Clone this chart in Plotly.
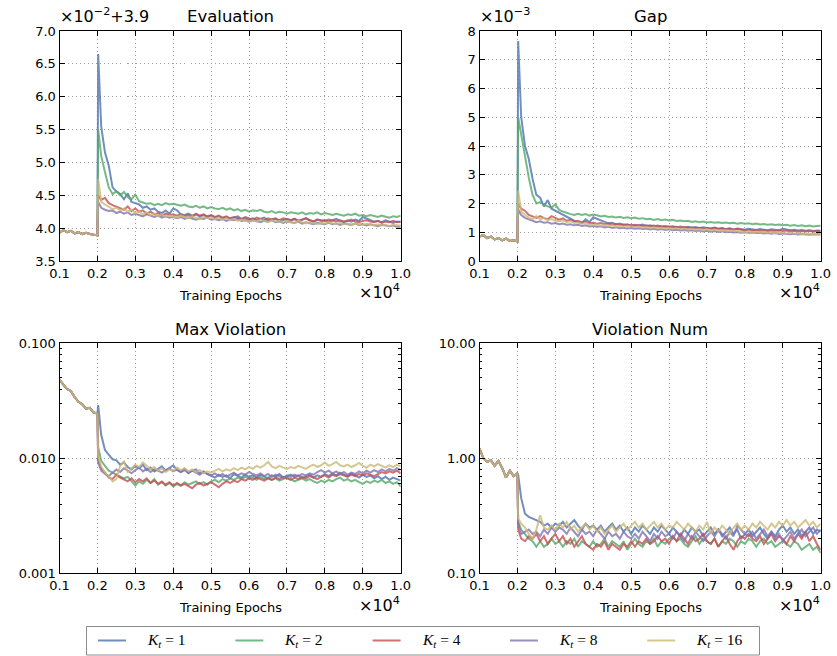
import plotly.graph_objects as go

W, H = 837, 656

# ---- data -----------------------------------------------------------------
epochs_pre = list(range(1000, 2001, 100))
epochs_post = [2020] + list(range(2100, 10001, 100))
epochs = epochs_pre + epochs_post

x_tickvals = list(range(1000, 10001, 1000))
x_ticktext = ["0.1", "0.2", "0.3", "0.4", "0.5", "0.6", "0.7", "0.8", "0.9", "1.0"]

series_labels = ["<i>K</i><sub><i>t</i></sub> = 1", "<i>K</i><sub><i>t</i></sub> = 2",
                 "<i>K</i><sub><i>t</i></sub> = 4", "<i>K</i><sub><i>t</i></sub> = 8",
                 "<i>K</i><sub><i>t</i></sub> = 16"]
series_colors = ["rgba(76,114,176,0.8)", "rgba(85,168,104,0.8)", "rgba(196,78,82,0.8)",
                 "rgba(129,114,178,0.8)", "rgba(204,185,116,0.8)"]

# Evaluation, in units of 1e-2 above 3.9 (shared warm-up, then one run per K_t)
eval_pre = [3.93, 3.97, 3.94, 3.96, 3.92, 3.94, 3.91, 3.93, 3.91, 3.90, 3.89]
eval_k1 = [6.65,
           5.55, 5.15, 4.95, 4.62, 4.56, 4.52, 4.44, 4.53, 4.40, 4.38,
           4.36, 4.31, 4.33, 4.28, 4.30, 4.25, 4.23, 4.27, 4.22, 4.30,
           4.27, 4.21, 4.20, 4.22, 4.19, 4.21, 4.18, 4.20, 4.17, 4.19,
           4.16, 4.18, 4.15, 4.17, 4.14, 4.16, 4.18, 4.14, 4.15, 4.13,
           4.15, 4.12, 4.14, 4.16, 4.12, 4.13, 4.15, 4.11, 4.13, 4.14,
           4.12, 4.14, 4.11, 4.13, 4.15, 4.12, 4.10, 4.13, 4.11, 4.12,
           4.10, 4.12, 4.14, 4.11, 4.09, 4.12, 4.10, 4.13, 4.11, 4.17,
           4.15, 4.12, 4.10, 4.11, 4.09, 4.12, 4.10, 4.08, 4.10, 4.09]
eval_k2 = [5.50,
           5.10, 4.85, 4.62, 4.52, 4.56, 4.50, 4.55, 4.47, 4.44, 4.51,
           4.41, 4.39, 4.37, 4.38, 4.35, 4.37, 4.35, 4.38, 4.36, 4.37,
           4.35, 4.34, 4.36, 4.33, 4.32, 4.34, 4.31, 4.33, 4.30, 4.32,
           4.30, 4.29, 4.31, 4.28, 4.30, 4.27, 4.29, 4.26, 4.28, 4.25,
           4.27, 4.26, 4.28, 4.25, 4.24, 4.26, 4.23, 4.25, 4.24, 4.22,
           4.24, 4.23, 4.22, 4.24, 4.21, 4.23, 4.22, 4.24, 4.21, 4.23,
           4.22, 4.20, 4.22, 4.21, 4.19, 4.21, 4.20, 4.22, 4.19, 4.20,
           4.18, 4.20, 4.19, 4.17, 4.19, 4.18, 4.16, 4.18, 4.17, 4.19]
eval_k4 = [4.50,
           4.43, 4.46, 4.38, 4.35, 4.33, 4.30, 4.28, 4.33, 4.26, 4.30,
           4.25, 4.27, 4.22, 4.25, 4.21, 4.23, 4.19, 4.22, 4.20, 4.21,
           4.19, 4.21, 4.18, 4.20, 4.17, 4.22, 4.19, 4.21, 4.18, 4.20,
           4.17, 4.19, 4.16, 4.18, 4.15, 4.17, 4.16, 4.14, 4.17, 4.15,
           4.13, 4.16, 4.14, 4.12, 4.15, 4.13, 4.14, 4.12, 4.15, 4.13,
           4.12, 4.14, 4.11, 4.13, 4.15, 4.12, 4.10, 4.13, 4.12, 4.11,
           4.13, 4.11, 4.10, 4.12, 4.10, 4.11, 4.13, 4.10, 4.09, 4.11,
           4.12, 4.10, 4.09, 4.11, 4.08, 4.10, 4.09, 4.11, 4.09, 4.10]
eval_k8 = [4.40,
           4.31, 4.28, 4.26, 4.27, 4.23, 4.25, 4.22, 4.24, 4.20, 4.22,
           4.20, 4.18, 4.21, 4.19, 4.17, 4.19, 4.16, 4.18, 4.16, 4.17,
           4.15, 4.17, 4.14, 4.16, 4.15, 4.13, 4.15, 4.14, 4.16, 4.13,
           4.14, 4.12, 4.14, 4.11, 4.13, 4.12, 4.14, 4.11, 4.12, 4.10,
           4.12, 4.11, 4.09, 4.11, 4.10, 4.12, 4.09, 4.10, 4.08, 4.10,
           4.09, 4.08, 4.10, 4.07, 4.09, 4.08, 4.06, 4.08, 4.07, 4.06,
           4.08, 4.06, 4.07, 4.05, 4.07, 4.06, 4.05, 4.07, 4.05, 4.06,
           4.04, 4.06, 4.05, 4.03, 4.05, 4.04, 4.03, 4.04, 4.02, 4.02]
eval_k16 = [4.75,
            4.40, 4.36, 4.32, 4.29, 4.31, 4.27, 4.30, 4.25, 4.28, 4.23,
            4.25, 4.21, 4.24, 4.20, 4.22, 4.18, 4.21, 4.17, 4.19, 4.18,
            4.16, 4.19, 4.17, 4.15, 4.18, 4.16, 4.14, 4.17, 4.15, 4.16,
            4.14, 4.16, 4.13, 4.15, 4.12, 4.14, 4.11, 4.13, 4.12, 4.10,
            4.12, 4.10, 4.13, 4.11, 4.09, 4.12, 4.10, 4.11, 4.09, 4.11,
            4.10, 4.08, 4.11, 4.09, 4.07, 4.09, 4.08, 4.06, 4.08, 4.07,
            4.09, 4.07, 4.06, 4.08, 4.06, 4.07, 4.05, 4.07, 4.06, 4.05,
            4.07, 4.05, 4.04, 4.06, 4.04, 4.05, 4.03, 4.05, 4.04, 4.04]

# Gap, in units of 1e-3
gap_pre = [0.85, 0.90, 0.80, 0.85, 0.75, 0.80, 0.72, 0.78, 0.70, 0.72, 0.68]
gap_k1 = [7.65,
          5.00, 4.00, 3.55, 2.85, 2.30, 2.20, 1.90, 2.12, 1.82, 1.75,
          1.70, 1.62, 1.55, 1.48, 1.40, 1.36, 1.32, 1.45, 1.35, 1.52,
          1.46, 1.40, 1.36, 1.31, 1.33, 1.27, 1.30, 1.25, 1.28, 1.22,
          1.26, 1.23, 1.27, 1.21, 1.24, 1.20, 1.23, 1.19, 1.22, 1.18,
          1.21, 1.17, 1.20, 1.16, 1.19, 1.15, 1.18, 1.14, 1.17, 1.15,
          1.13, 1.16, 1.12, 1.15, 1.11, 1.14, 1.10, 1.13, 1.11, 1.09,
          1.12, 1.10, 1.08, 1.11, 1.09, 1.07, 1.10, 1.08, 1.06, 1.12,
          1.10, 1.07, 1.09, 1.06, 1.08, 1.05, 1.07, 1.04, 1.06, 1.05]
gap_k2 = [5.00,
          4.40, 3.60, 2.90, 2.30, 2.00, 2.05, 1.95, 1.90, 1.85, 1.97,
          1.78, 1.72, 1.67, 1.63, 1.60, 1.64, 1.60, 1.63, 1.58, 1.62,
          1.59, 1.55, 1.57, 1.53, 1.55, 1.51, 1.54, 1.50, 1.52, 1.49,
          1.51, 1.47, 1.49, 1.45, 1.47, 1.43, 1.46, 1.42, 1.44, 1.41,
          1.43, 1.39, 1.41, 1.38, 1.40, 1.36, 1.38, 1.35, 1.37, 1.34,
          1.36, 1.33, 1.35, 1.32, 1.34, 1.31, 1.33, 1.30, 1.32, 1.30,
          1.31, 1.28, 1.30, 1.27, 1.29, 1.26, 1.28, 1.25, 1.27, 1.24,
          1.26, 1.23, 1.25, 1.22, 1.24, 1.21, 1.23, 1.20, 1.22, 1.23]
gap_k4 = [2.00,
          1.82, 1.75, 1.60, 1.55, 1.50, 1.56, 1.49, 1.45, 1.56, 1.50,
          1.44, 1.48, 1.40, 1.43, 1.37, 1.40, 1.34, 1.37, 1.31, 1.33,
          1.30, 1.32, 1.28, 1.30, 1.26, 1.29, 1.25, 1.27, 1.24, 1.26,
          1.23, 1.25, 1.22, 1.24, 1.20, 1.23, 1.19, 1.21, 1.18, 1.20,
          1.17, 1.19, 1.16, 1.18, 1.15, 1.17, 1.14, 1.16, 1.13, 1.15,
          1.12, 1.14, 1.11, 1.13, 1.10, 1.12, 1.09, 1.11, 1.08, 1.07,
          1.09, 1.06, 1.08, 1.05, 1.07, 1.04, 1.06, 1.05, 1.07, 1.04,
          1.06, 1.03, 1.05, 1.02, 1.04, 1.03, 1.05, 1.02, 1.04, 1.03]
gap_k8 = [1.80,
          1.60, 1.50, 1.45, 1.40, 1.35, 1.38, 1.33, 1.35, 1.30, 1.32,
          1.28, 1.30, 1.26, 1.28, 1.24, 1.26, 1.22, 1.24, 1.20, 1.22,
          1.19, 1.21, 1.17, 1.19, 1.15, 1.17, 1.14, 1.16, 1.13, 1.15,
          1.12, 1.14, 1.11, 1.13, 1.10, 1.12, 1.09, 1.11, 1.08, 1.10,
          1.07, 1.09, 1.06, 1.08, 1.05, 1.07, 1.04, 1.06, 1.03, 1.05,
          1.02, 1.04, 1.01, 1.03, 1.00, 1.02, 0.99, 1.01, 0.98, 1.00,
          0.98, 0.99, 0.97, 0.98, 0.96, 0.97, 0.95, 0.97, 0.94, 0.96,
          0.95, 0.93, 0.95, 0.92, 0.94, 0.93, 0.91, 0.93, 0.92, 0.92]
gap_k16 = [2.45,
           1.72, 1.60, 1.50, 1.46, 1.56, 1.45, 1.50, 1.42, 1.46, 1.40,
           1.38, 1.41, 1.35, 1.38, 1.32, 1.34, 1.30, 1.32, 1.27, 1.25,
           1.27, 1.23, 1.25, 1.21, 1.24, 1.20, 1.22, 1.19, 1.21, 1.20,
           1.18, 1.20, 1.16, 1.18, 1.15, 1.17, 1.14, 1.16, 1.13, 1.15,
           1.12, 1.14, 1.11, 1.13, 1.10, 1.12, 1.09, 1.11, 1.08, 1.10,
           1.07, 1.09, 1.06, 1.05, 1.07, 1.04, 1.06, 1.03, 1.02, 1.01,
           1.03, 1.00, 1.02, 0.99, 1.01, 0.98, 1.00, 0.97, 0.99, 0.98,
           0.96, 0.98, 0.95, 0.97, 0.94, 0.96, 0.95, 0.93, 0.95, 0.94]

# Max violation
maxv_pre = [0.048, 0.044, 0.040, 0.0385, 0.034, 0.031, 0.0295, 0.027, 0.0275, 0.025, 0.0245]
maxv_k1 = [0.029,
           0.016, 0.0118, 0.0108, 0.0098, 0.0096, 0.0088, 0.0092, 0.0084, 0.0080, 0.0086,
           0.0082, 0.0088, 0.0079, 0.0083, 0.0077, 0.0081, 0.0085, 0.0078, 0.0082, 0.0087,
           0.0079, 0.0076, 0.0081, 0.0075, 0.0078, 0.0080, 0.0074, 0.0077, 0.0073, 0.0070,
           0.0068, 0.0072, 0.0069, 0.0071, 0.0067, 0.0073, 0.0070, 0.0068, 0.0072, 0.0069,
           0.0071, 0.0068, 0.0072, 0.0070, 0.0067, 0.0071, 0.0069, 0.0073, 0.0068, 0.0070,
           0.0072, 0.0069, 0.0071, 0.0067, 0.0070, 0.0072, 0.0068, 0.0071, 0.0069, 0.0073,
           0.0070, 0.0074, 0.0071, 0.0075, 0.0072, 0.0070, 0.0074, 0.0071, 0.0068, 0.0072,
           0.0069, 0.0071, 0.0067, 0.0070, 0.0066, 0.0069, 0.0065, 0.0068, 0.0066, 0.0064]
maxv_k2 = [0.0125,
           0.0095, 0.0086, 0.0078, 0.0075, 0.0072, 0.0070, 0.0067, 0.0069, 0.0063, 0.0058,
           0.0063, 0.0060, 0.0065, 0.0061, 0.0066, 0.0059, 0.0062, 0.0058, 0.0061, 0.0057,
           0.0060, 0.0058, 0.0062, 0.0059, 0.0061, 0.0063, 0.0060, 0.0062, 0.0059, 0.0063,
           0.0065, 0.0062, 0.0066, 0.0064, 0.0067, 0.0065, 0.0068, 0.0066, 0.0069, 0.0067,
           0.0068, 0.0065, 0.0069, 0.0066, 0.0068, 0.0065, 0.0067, 0.0064, 0.0066, 0.0068,
           0.0066, 0.0063, 0.0065, 0.0067, 0.0064, 0.0066, 0.0063, 0.0061, 0.0064, 0.0062,
           0.0065, 0.0063, 0.0066, 0.0068, 0.0064, 0.0066, 0.0063, 0.0065, 0.0062, 0.0060,
           0.0063, 0.0061, 0.0064, 0.0062, 0.0065, 0.0061, 0.0063, 0.0060, 0.0062, 0.0057]
maxv_k4 = [0.0095,
           0.0082, 0.0075, 0.0068, 0.0066, 0.0072, 0.0068, 0.0065, 0.0063, 0.0067, 0.0062,
           0.0066, 0.0063, 0.0067, 0.0061, 0.0064, 0.0060, 0.0063, 0.0059, 0.0062, 0.0058,
           0.0061, 0.0058, 0.0060, 0.0057, 0.0055, 0.0059, 0.0061, 0.0058, 0.0060, 0.0062,
           0.0059, 0.0056, 0.0060, 0.0063, 0.0061, 0.0064, 0.0062, 0.0066, 0.0064, 0.0067,
           0.0065, 0.0068, 0.0066, 0.0064, 0.0067, 0.0065, 0.0068, 0.0066, 0.0069, 0.0067,
           0.0065, 0.0068, 0.0066, 0.0069, 0.0067, 0.0070, 0.0068, 0.0066, 0.0069, 0.0071,
           0.0068, 0.0072, 0.0070, 0.0073, 0.0071, 0.0069, 0.0072, 0.0070, 0.0073, 0.0071,
           0.0074, 0.0072, 0.0070, 0.0073, 0.0076, 0.0074, 0.0077, 0.0075, 0.0078, 0.0074]
maxv_k8 = [0.0092,
           0.0078, 0.0073, 0.0070, 0.0075, 0.0080, 0.0076, 0.0082, 0.0078, 0.0074, 0.0079,
           0.0083, 0.0077, 0.0081, 0.0076, 0.0080, 0.0078, 0.0075, 0.0079, 0.0082, 0.0077,
           0.0080, 0.0076, 0.0079, 0.0074, 0.0078, 0.0075, 0.0072, 0.0076, 0.0073, 0.0071,
           0.0074, 0.0070, 0.0073, 0.0069, 0.0072, 0.0075, 0.0071, 0.0074, 0.0072, 0.0076,
           0.0073, 0.0071, 0.0074, 0.0070, 0.0073, 0.0069, 0.0072, 0.0070, 0.0068, 0.0071,
           0.0069, 0.0072, 0.0070, 0.0073, 0.0071, 0.0074, 0.0072, 0.0076, 0.0079, 0.0075,
           0.0078, 0.0074, 0.0077, 0.0073, 0.0076, 0.0072, 0.0075, 0.0073, 0.0077, 0.0074,
           0.0078, 0.0075, 0.0079, 0.0076, 0.0080, 0.0077, 0.0081, 0.0078, 0.0082, 0.0079]
maxv_k16 = [0.0105,
            0.0085, 0.0075, 0.0070, 0.0063, 0.0066, 0.0086, 0.0094, 0.0076, 0.0081, 0.0088,
            0.0084, 0.0092, 0.0086, 0.0080, 0.0084, 0.0078, 0.0082, 0.0076, 0.0080, 0.0078,
            0.0083, 0.0079, 0.0082, 0.0077, 0.0080, 0.0076, 0.0079, 0.0074, 0.0077, 0.0075,
            0.0078, 0.0081, 0.0077, 0.0080, 0.0078, 0.0082, 0.0079, 0.0083, 0.0080, 0.0084,
            0.0081, 0.0086, 0.0083, 0.0087, 0.0093, 0.0085, 0.0082, 0.0086, 0.0083, 0.0081,
            0.0084, 0.0082, 0.0086, 0.0083, 0.0081, 0.0085, 0.0088, 0.0084, 0.0087, 0.0092,
            0.0086, 0.0089, 0.0093, 0.0087, 0.0085, 0.0088, 0.0084, 0.0087, 0.0091, 0.0086,
            0.0083, 0.0088, 0.0085, 0.0089, 0.0086, 0.0083, 0.0087, 0.0084, 0.0088, 0.0085]

# Violation count
vnum_pre = [1.22, 1.00, 0.93, 0.96, 0.86, 0.95, 0.82, 0.68, 0.78, 0.70, 0.74]
vnum_k1 = [0.72,
           0.45, 0.33, 0.31, 0.30, 0.29, 0.28, 0.26, 0.27, 0.25, 0.27,
           0.26, 0.28, 0.25, 0.27, 0.29, 0.26, 0.24, 0.27, 0.25, 0.26,
           0.24, 0.26, 0.23, 0.25, 0.27, 0.24, 0.26, 0.23, 0.25, 0.22,
           0.25, 0.23, 0.26, 0.24, 0.22, 0.25, 0.23, 0.26, 0.24, 0.22,
           0.25, 0.23, 0.21, 0.24, 0.22, 0.25, 0.23, 0.24, 0.21, 0.23,
           0.25, 0.22, 0.24, 0.21, 0.23, 0.25, 0.22, 0.24, 0.20, 0.22,
           0.24, 0.21, 0.23, 0.25, 0.22, 0.20, 0.23, 0.21, 0.24, 0.26,
           0.23, 0.25, 0.22, 0.24, 0.21, 0.23, 0.25, 0.22, 0.24, 0.23]
vnum_k2 = [0.28,
           0.24, 0.22, 0.20, 0.19, 0.17, 0.19, 0.17, 0.18, 0.20, 0.18,
           0.19, 0.17, 0.19, 0.18, 0.20, 0.17, 0.19, 0.18, 0.17, 0.19,
           0.17, 0.18, 0.20, 0.17, 0.19, 0.18, 0.17, 0.19, 0.16, 0.18,
           0.20, 0.18, 0.17, 0.19, 0.18, 0.20, 0.17, 0.19, 0.18, 0.20,
           0.21, 0.19, 0.20, 0.18, 0.17, 0.19, 0.21, 0.18, 0.20, 0.19,
           0.18, 0.20, 0.17, 0.19, 0.18, 0.20, 0.19, 0.17, 0.19, 0.18,
           0.20, 0.19, 0.17, 0.19, 0.20, 0.18, 0.19, 0.17, 0.18, 0.19,
           0.18, 0.17, 0.19, 0.18, 0.16, 0.17, 0.18, 0.16, 0.17, 0.15]
vnum_k4 = [0.24,
           0.20, 0.19, 0.21, 0.20, 0.22, 0.19, 0.21, 0.18, 0.20, 0.22,
           0.19, 0.21, 0.18, 0.20, 0.17, 0.19, 0.21, 0.18, 0.17, 0.16,
           0.18, 0.17, 0.19, 0.16, 0.18, 0.17, 0.16, 0.18, 0.17, 0.19,
           0.17, 0.19, 0.18, 0.20, 0.18, 0.19, 0.21, 0.19, 0.20, 0.18,
           0.21, 0.19, 0.22, 0.20, 0.18, 0.21, 0.19, 0.20, 0.22, 0.19,
           0.18, 0.20, 0.17, 0.19, 0.21, 0.18, 0.16, 0.19, 0.21, 0.20,
           0.22, 0.20, 0.19, 0.21, 0.18, 0.20, 0.22, 0.19, 0.21, 0.20,
           0.18, 0.21, 0.19, 0.22, 0.20, 0.23, 0.19, 0.21, 0.18, 0.16]
vnum_k8 = [0.27,
           0.22, 0.23, 0.24, 0.22, 0.23, 0.21, 0.24, 0.22, 0.25, 0.23,
           0.25, 0.24, 0.22, 0.25, 0.23, 0.21, 0.24, 0.22, 0.23, 0.21,
           0.24, 0.22, 0.20, 0.23, 0.21, 0.22, 0.20, 0.23, 0.21, 0.20,
           0.22, 0.20, 0.23, 0.21, 0.19, 0.22, 0.20, 0.23, 0.21, 0.22,
           0.20, 0.23, 0.21, 0.19, 0.22, 0.20, 0.23, 0.21, 0.19, 0.21,
           0.23, 0.21, 0.24, 0.22, 0.20, 0.23, 0.21, 0.26, 0.24, 0.22,
           0.21, 0.23, 0.20, 0.22, 0.24, 0.21, 0.23, 0.20, 0.22, 0.19,
           0.21, 0.23, 0.20, 0.22, 0.24, 0.21, 0.23, 0.25, 0.22, 0.24]
vnum_k16 = [0.30,
            0.27, 0.25, 0.22, 0.20, 0.24, 0.32, 0.25, 0.24, 0.26, 0.24,
            0.27, 0.25, 0.28, 0.24, 0.26, 0.23, 0.25, 0.27, 0.24, 0.26,
            0.23, 0.25, 0.22, 0.24, 0.26, 0.23, 0.25, 0.27, 0.24, 0.26,
            0.28, 0.25, 0.27, 0.24, 0.26, 0.28, 0.25, 0.27, 0.24, 0.26,
            0.25, 0.28, 0.26, 0.24, 0.27, 0.25, 0.23, 0.26, 0.24, 0.28,
            0.22, 0.25, 0.23, 0.26, 0.24, 0.22, 0.25, 0.27, 0.24, 0.26,
            0.24, 0.27, 0.25, 0.28, 0.26, 0.24, 0.27, 0.25, 0.28, 0.26,
            0.29, 0.26, 0.28, 0.25, 0.27, 0.29, 0.26, 0.28, 0.25, 0.27]

panels = [
    ("Evaluation", eval_pre, [eval_k1, eval_k2, eval_k4, eval_k8, eval_k16]),
    ("Gap", gap_pre, [gap_k1, gap_k2, gap_k4, gap_k8, gap_k16]),
    ("Max Violation", maxv_pre, [maxv_k1, maxv_k2, maxv_k4, maxv_k8, maxv_k16]),
    ("Violation Num", vnum_pre, [vnum_k1, vnum_k2, vnum_k4, vnum_k8, vnum_k16]),
]

# ---- layout helpers -------------------------------------------------------
def px_x(p):
    return p / W


def px_y(p):
    return 1 - p / H


# axes boxes in pixels: (left, right, top, bottom)
boxes = [
    (59.5, 400.7, 31.0, 261.0),
    (479.5, 820.7, 31.0, 261.0),
    (59.5, 400.7, 343.3, 573.3),
    (479.5, 820.7, 343.3, 573.3),
]

FONT = "DejaVu Sans, Verdana, sans-serif"
TICKFONT = dict(family=FONT, size=13, color="black")

fig = go.Figure()

for i, (title, pre, runs) in enumerate(panels):
    xa = "x" if i == 0 else f"x{i + 1}"
    ya = "y" if i == 0 else f"y{i + 1}"
    for j, run in enumerate(runs):
        fig.add_trace(go.Scatter(
            x=epochs, y=pre + run, mode="lines", xaxis=xa, yaxis=ya,
            line=dict(color=series_colors[j], width=2),
            showlegend=False, hoverinfo="skip",
        ))

common_axis = dict(
    ticks="inside", ticklen=5, tickwidth=1, tickcolor="black",
    showline=True, linecolor="black", linewidth=1, mirror="ticks",
    showgrid=True, gridcolor="#a0a0a0", griddash="1px,3px", gridwidth=1,
    zeroline=False, tickfont=TICKFONT, automargin=False,
)

layout = dict(
    width=W, height=H, margin=dict(l=0, r=0, t=0, b=0, autoexpand=False),
    paper_bgcolor="white", plot_bgcolor="white", showlegend=False,
)

minor_vals_mv = [k * 10 ** e for e in (-3, -2) for k in range(2, 10)]
minor_vals_vn = [k * 10 ** e for e in (-1, 0) for k in range(2, 10)]

y_specs = [
    dict(range=[3.5, 7.0], tickvals=[3.5, 4.0, 4.5, 5.0, 5.5, 6.0, 6.5, 7.0],
         ticktext=["3.5", "4.0", "4.5", "5.0", "5.5", "6.0", "6.5", "7.0"]),
    dict(range=[0, 8], tickvals=list(range(0, 9)),
         ticktext=[str(v) for v in range(0, 9)]),
    dict(type="log", range=[-3, -1], tickvals=[0.001, 0.01, 0.1],
         ticktext=["0.001", "0.010", "0.100"],
         minor=dict(ticks="inside", ticklen=2.5, tickcolor="black",
                    tickvals=minor_vals_mv, showgrid=False)),
    dict(type="log", range=[-1, 1], tickvals=[0.1, 1, 10],
         ticktext=["0.10", "1.00", "10.00"],
         minor=dict(ticks="inside", ticklen=2.5, tickcolor="black",
                    tickvals=minor_vals_vn, showgrid=False)),
]

for i, (l, r, t, b) in enumerate(boxes):
    xk = "xaxis" if i == 0 else f"xaxis{i + 1}"
    yk = "yaxis" if i == 0 else f"yaxis{i + 1}"
    anchor_x = "y" if i == 0 else f"y{i + 1}"
    anchor_y = "x" if i == 0 else f"x{i + 1}"
    layout[xk] = dict(common_axis, domain=[px_x(l), px_x(r)], anchor=anchor_x,
                      range=[1000, 10000], tickvals=x_tickvals, ticktext=x_ticktext)
    layout[yk] = dict(common_axis, domain=[px_y(b), px_y(t)], anchor=anchor_y,
                      **y_specs[i])

fig.update_layout(**layout)

# ---- text -----------------------------------------------------------------
def note(text, x, y, size, xanchor="center", yanchor="middle", family=FONT):
    fig.add_annotation(text=text, x=px_x(x), y=px_y(y), xref="paper", yref="paper",
                       xanchor=xanchor, yanchor=yanchor, showarrow=False,
                       font=dict(family=family, size=size, color="black"))


for i, (title, _, _) in enumerate(panels):
    l, r, t, b = boxes[i]
    cx = (l + r) / 2
    note(title, cx, t - 14, 16.5)
    note("Training Epochs", cx, b + 34.5, 13)
    note("×10<sup>4</sup>", r + 1, b + 31, 16, xanchor="right")

note("×10<sup>−2</sup>+3.9", 58, 15.5, 16, xanchor="left")
note("×10<sup>−3</sup>", 478, 15.5, 16, xanchor="left")

# ---- legend ---------------------------------------------------------------
fig.add_shape(type="rect", xref="paper", yref="paper",
              x0=px_x(86.5), x1=px_x(759.5), y0=px_y(655), y1=px_y(626.5),
              line=dict(color="#8c8c8c", width=1), fillcolor="white")
legend_y = 640.5
for j, label in enumerate(series_labels):
    x0 = 98 + j * 137.3
    fig.add_shape(type="line", xref="paper", yref="paper",
                  x0=px_x(x0), x1=px_x(x0 + 28), y0=px_y(legend_y), y1=px_y(legend_y),
                  line=dict(color=series_colors[j], width=2))
    note(label, x0 + 47, legend_y, 15.5, xanchor="left",
         family="Liberation Serif, DejaVu Serif, serif")

fig.write_html("out.html")
